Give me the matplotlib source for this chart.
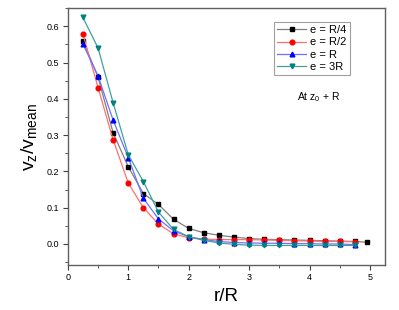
import matplotlib

matplotlib.use("Agg")
import matplotlib.pyplot as plt
from matplotlib.ticker import MultipleLocator

plt.rcParams["font.family"] = ["Liberation Sans", "DejaVu Sans"]

r_steps = [0.25, 0.5, 0.75, 1.0, 1.25, 1.5, 1.75, 2.0, 2.25, 2.5,
           2.75, 3.0, 3.25, 3.5, 3.75, 4.0, 4.25, 4.5, 4.75]
r_quarter = r_steps + [4.95]

v_quarter = [0.560, 0.460, 0.306, 0.213, 0.139, 0.109, 0.068, 0.043, 0.031, 0.024,
             0.019, 0.015, 0.013, 0.012, 0.011, 0.010, 0.009, 0.008, 0.007, 0.005]
v_half = [0.579, 0.431, 0.287, 0.168, 0.100, 0.055, 0.028, 0.017, 0.014, 0.012,
          0.012, 0.012, 0.011, 0.010, 0.009, 0.008, 0.007, 0.007, 0.006]
v_one = [0.551, 0.463, 0.341, 0.238, 0.126, 0.069, 0.036, 0.020, 0.012, 0.007,
         0.004, 0.003, 0.002, 0.002, 0.001, 0.001, 0.000, 0.000, -0.002]
v_three = [0.624, 0.540, 0.389, 0.246, 0.172, 0.088, 0.040, 0.020, 0.010, 0.003,
           -0.001, -0.003, -0.004, -0.004, -0.004, -0.004, -0.004, -0.004, -0.004]

labels = ["e = R/4", "e = R/2", "e = R", "e = 3R"]

series = [
    (r_quarter, v_quarter, "s", "black", "#808080"),
    (r_steps, v_half, "o", "red", "#ff7070"),
    (r_steps, v_one, "^", "blue", "#7070ff"),
    (r_steps, v_three, "v", "#008080", "#40a0a0"),
]

fig = plt.figure(figsize=(3.99, 3.10), dpi=100)
ax = fig.add_axes([0.170, 0.145, 0.795, 0.829])

for (x, y, marker, mcolor, lcolor), label in zip(series, labels):
    ax.plot(x, y, color=lcolor, lw=0.9, marker=marker, ms=3.4,
            mfc=mcolor, mec=mcolor, label=label)

ax.set_xlim(0, 5.25)
ax.set_ylim(-0.058, 0.65)
ax.xaxis.set_major_locator(MultipleLocator(1))
ax.xaxis.set_minor_locator(MultipleLocator(0.5))
ax.yaxis.set_major_locator(MultipleLocator(0.1))
ax.yaxis.set_minor_locator(MultipleLocator(0.05))
ax.yaxis.set_major_formatter(matplotlib.ticker.FormatStrFormatter("%.1f"))
ax.tick_params(which="both", direction="out", labelsize=6.5, color="#404040")
ax.tick_params(which="major", length=3.5, pad=2.5)
ax.tick_params(which="minor", length=2)
for spine in ax.spines.values():
    spine.set_color("#606060")
    spine.set_linewidth(1.0)

ax.set_xlabel("r/R", fontsize=13.5, labelpad=4)
ax.set_ylabel(r"$\mathregular{v_z/v_{mean}}$", fontsize=14, labelpad=6)

leg = ax.legend(loc="upper right", bbox_to_anchor=(0.89, 0.946), borderaxespad=0,
                fontsize=8, handlelength=2.6, handletextpad=0.4, borderpad=0.3,
                labelspacing=0.2, fancybox=False, framealpha=1)
leg.get_frame().set_edgecolor("#a0a0a0")
leg.get_frame().set_linewidth(0.8)

ax.text(0.79, 0.655, r"At z$\mathregular{_0}$ + R", transform=ax.transAxes,
        fontsize=7.5, ha="center", va="center")

fig.savefig("out.png", dpi=100)
